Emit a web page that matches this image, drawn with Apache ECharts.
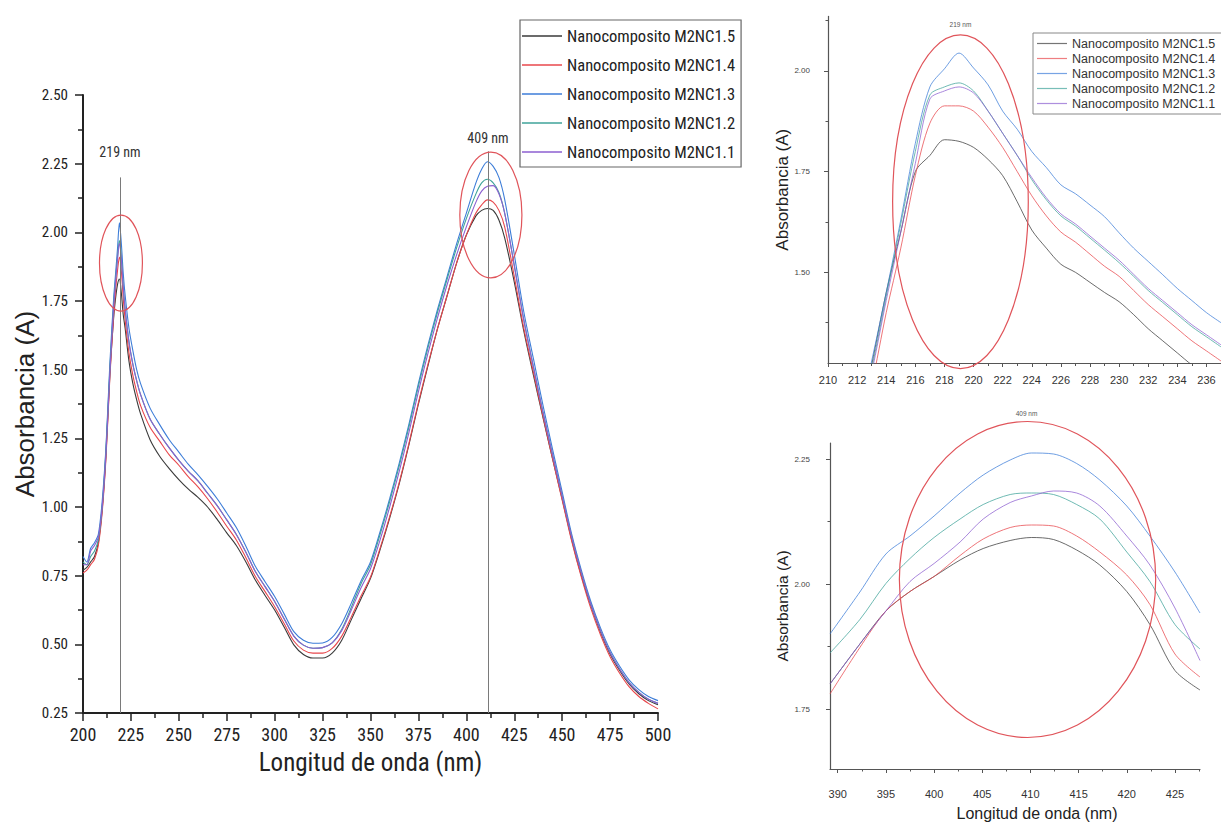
<!DOCTYPE html>
<html><head><meta charset="utf-8">
<script src="https://cdn.jsdelivr.net/npm/echarts@6/dist/echarts.min.js"></script>
<style>html,body{margin:0;padding:0;background:#fff}#c{width:1221px;height:822px}</style>
</head><body><div id="c"></div>
<script>
// ---------- data ----------
const seriesNames = ['Nanocomposito M2NC1.5','Nanocomposito M2NC1.4','Nanocomposito M2NC1.3','Nanocomposito M2NC1.2','Nanocomposito M2NC1.1'];
const seriesColors = ['#3a3a3a','#e8474c','#3d7dd8','#3fa39a','#8c5fd0'];

// main spectrum (200-500 nm)
const mainWl = [200,202,204,206,208,210,212,214,216,217,218,219,220,221,222,224,226,228,230,235,240,245,250,255,260,265,270,275,280,285,290,295,300,305,310,315,320,325,330,335,340,345,350,355,360,365,370,375,380,385,390,395,400,405,408,411,414,417,420,425,430,435,440,445,450,455,460,465,470,475,480,485,490,495,500];
const mainM15 = [0.77,0.78,0.80,0.82,0.87,0.99,1.19,1.48,1.69,1.76,1.81,1.83,1.78,1.70,1.65,1.53,1.45,1.39,1.34,1.245,1.185,1.14,1.10,1.065,1.035,1.00,0.955,0.906,0.86,0.80,0.733,0.678,0.625,0.562,0.498,0.463,0.45,0.45,0.468,0.515,0.59,0.665,0.74,0.845,0.96,1.085,1.225,1.375,1.515,1.65,1.77,1.89,1.99,2.06,2.08,2.087,2.08,2.045,1.98,1.82,1.64,1.48,1.325,1.175,1.03,0.88,0.75,0.64,0.545,0.465,0.405,0.355,0.32,0.295,0.28];
const mainM14 = [0.76,0.77,0.79,0.81,0.86,0.98,1.18,1.47,1.70,1.79,1.86,1.91,1.86,1.76,1.68,1.56,1.48,1.42,1.37,1.29,1.24,1.19,1.152,1.11,1.073,1.03,0.982,0.930,0.88,0.815,0.746,0.692,0.637,0.575,0.512,0.479,0.468,0.468,0.485,0.53,0.60,0.675,0.745,0.85,0.965,1.09,1.23,1.38,1.52,1.65,1.77,1.89,1.99,2.07,2.10,2.118,2.11,2.08,2.02,1.84,1.65,1.49,1.33,1.175,1.025,0.875,0.745,0.63,0.535,0.455,0.395,0.345,0.31,0.285,0.265];
const mainM13 = [0.82,0.80,0.85,0.87,0.90,1.02,1.22,1.52,1.76,1.85,1.94,2.035,1.96,1.85,1.77,1.65,1.57,1.50,1.45,1.36,1.30,1.245,1.20,1.155,1.117,1.075,1.03,0.978,0.925,0.857,0.783,0.728,0.674,0.61,0.546,0.515,0.504,0.505,0.525,0.575,0.65,0.73,0.80,0.91,1.03,1.16,1.30,1.45,1.59,1.72,1.84,1.96,2.07,2.18,2.23,2.257,2.24,2.20,2.12,1.92,1.71,1.54,1.37,1.21,1.055,0.90,0.77,0.655,0.56,0.48,0.42,0.37,0.335,0.31,0.295];
const mainM12 = [0.80,0.79,0.82,0.84,0.88,1.00,1.21,1.50,1.74,1.83,1.91,1.97,1.91,1.80,1.72,1.60,1.52,1.46,1.41,1.32,1.265,1.215,1.17,1.13,1.095,1.05,1.005,0.953,0.90,0.835,0.764,0.71,0.656,0.592,0.530,0.497,0.486,0.488,0.505,0.555,0.635,0.72,0.79,0.90,1.02,1.15,1.29,1.44,1.58,1.71,1.83,1.945,2.05,2.14,2.18,2.193,2.18,2.145,2.07,1.88,1.68,1.51,1.345,1.19,1.04,0.89,0.76,0.645,0.55,0.47,0.41,0.36,0.325,0.30,0.285];
const mainM11 = [0.79,0.79,0.84,0.86,0.89,1.00,1.20,1.49,1.73,1.82,1.90,1.96,1.90,1.80,1.72,1.60,1.52,1.46,1.41,1.32,1.265,1.215,1.17,1.13,1.095,1.05,1.005,0.953,0.90,0.835,0.764,0.71,0.656,0.592,0.530,0.497,0.486,0.488,0.505,0.55,0.625,0.705,0.775,0.88,1.00,1.13,1.27,1.42,1.56,1.69,1.81,1.92,2.02,2.11,2.15,2.168,2.17,2.14,2.07,1.88,1.68,1.51,1.345,1.19,1.04,0.89,0.76,0.645,0.55,0.47,0.41,0.36,0.325,0.30,0.285];

// zoom around 219 nm
const z1Wl  = [212,213,214,215,216,217,218,219,220,221,222,223,224,225,226,227,228,229,230,231,232,233,234,235,236,237];
const z1M15 = [1.10,1.27,1.45,1.60,1.75,1.79,1.829,1.825,1.81,1.78,1.74,1.675,1.605,1.56,1.52,1.50,1.475,1.45,1.427,1.395,1.36,1.33,1.30,1.27,1.245,1.22];
const z1M14 = [1.08,1.22,1.40,1.56,1.74,1.87,1.913,1.913,1.90,1.86,1.81,1.75,1.69,1.64,1.60,1.575,1.545,1.515,1.49,1.455,1.42,1.39,1.36,1.33,1.305,1.28];
const z1M13 = [1.12,1.28,1.45,1.63,1.82,1.96,2.005,2.044,2.007,1.965,1.90,1.855,1.80,1.76,1.717,1.695,1.667,1.638,1.598,1.56,1.527,1.494,1.46,1.43,1.40,1.375];
const z1M12 = [1.10,1.26,1.44,1.62,1.80,1.94,1.96,1.97,1.95,1.90,1.845,1.79,1.73,1.68,1.64,1.615,1.585,1.555,1.524,1.49,1.455,1.425,1.395,1.365,1.34,1.315];
const z1M11 = [1.09,1.25,1.43,1.60,1.77,1.93,1.95,1.96,1.945,1.90,1.845,1.79,1.735,1.685,1.645,1.62,1.59,1.56,1.53,1.495,1.46,1.43,1.40,1.37,1.345,1.32];

// zoom around 409 nm
const z2Wl  = [389.2,392.3,395,397.5,400,402.7,405.1,407.9,410.1,412.4,414.8,417.2,420,422.4,425,427.6];
const z2M15 = [1.800,1.880,1.946,1.985,2.015,2.048,2.071,2.087,2.093,2.089,2.068,2.038,1.985,1.919,1.827,1.788];
const z2M14 = [1.780,1.873,1.946,1.985,2.015,2.057,2.090,2.113,2.118,2.116,2.096,2.064,2.018,1.959,1.860,1.814];
const z2M13 = [1.900,1.984,2.060,2.096,2.136,2.182,2.218,2.248,2.262,2.260,2.241,2.208,2.156,2.096,2.024,1.942];
const z2M12 = [1.862,1.929,2.001,2.051,2.093,2.130,2.159,2.179,2.182,2.179,2.159,2.130,2.064,2.005,1.919,1.870];
const z2M11 = [1.800,1.880,1.946,2.005,2.041,2.084,2.130,2.163,2.176,2.186,2.182,2.156,2.096,2.038,1.952,1.847];

// tick values
const z1YLabels = [1.50,1.75,2.00];
const z1YMinor  = [1.375,1.625,1.875,2.125];
const z2XLabels = [390,395,400,405,410,415,420,425];
const z2XMinor  = [392.5,397.5,402.5,407.5,412.5,417.5,422.5,427.5];
const z2YLabels = [1.75,2.00,2.25];
const z2YMinor  = [1.875,2.125];

// annotations (data units)
const peakLines = [{x:219.3, top:2.20, text:'219 nm', ty:2.293}, {x:411.3, top:2.295, text:'409 nm', ty:2.343}];
const ellipses = [
  {xa:0, ya:0, cx:219.8, cy:1.888, rx:11.2, ry:0.175},
  {xa:0, ya:0, cx:412.8, cy:2.063, rx:16.2, ry:0.229},
  {xa:1, ya:1, cx:219.1, cy:1.675, rx:4.66, ry:0.414},
  {xa:2, ya:3, cx:409.7, cy:2.009, rx:13.3, ry:0.316}
];
const insetLabels = [{xa:1, ya:1, x:219.1, y:2.116, text:'219 nm'}, {xa:2, ya:3, x:409.6, y:2.342, text:'409 nm'}];

// ---------- chart ----------
const NARROW = '"Liberation Sans Narrow","Arial Narrow","Roboto Condensed","DejaVu Sans Condensed",sans-serif';
const REG = '"Liberation Sans",Arial,Helvetica,sans-serif';
const mainSets = [mainM15, mainM14, mainM13, mainM12, mainM11];
const z1Sets = [z1M15, z1M14, z1M13, z1M12, z1M11];
const z2Sets = [z2M15, z2M14, z2M13, z2M12, z2M11];

function mk(name, color, xi, yi, wl, vals, width, opacity) {
  return {
    type:'line', name, xAxisIndex:xi, yAxisIndex:yi,
    data: wl.map((x,i)=>[x, vals[i]]),
    symbol:'none', showSymbol:false, smooth:0.3, clip:true, sampling:null,
    lineStyle:{color, width, opacity}, itemStyle:{color},
    emphasis:{disabled:true}, silent:true, animation:false
  };
}
const series = [];
seriesNames.forEach((n,i)=>{
  const s = mk(n, seriesColors[i], 0, 0, mainWl, mainSets[i], 1.1, 1);
  if (i === 0) {
    s.markLine = {
      symbol:'none', silent:true, animation:false,
      lineStyle:{color:'#7a7a7a', width:1, type:'solid'}, label:{show:false},
      data: peakLines.map(p=>[{coord:[p.x, p.top]}, {coord:[p.x, 0.25]}])
    };
  }
  series.push(s);
});
seriesNames.forEach((n,i)=>series.push(mk(n, seriesColors[i], 1, 1, z1Wl, z1Sets[i], 1, 0.75)));
seriesNames.forEach((n,i)=>series.push(mk(n, seriesColors[i], 2, 3, z2Wl, z2Sets[i], 1, 0.75)));

const axC = '#222';
const inC = '#555';
const option = {
  backgroundColor:'#fff',
  animation:false,
  grid:[
    {left:83, top:95, width:575, height:618},
    {left:828, top:16.4, width:400, height:346.6},
    {left:830, top:443, width:370, height:330}
  ],
  legend:[
    {left:520, top:20, orient:'vertical', data:seriesNames, icon:'rect', itemWidth:40, itemHeight:1.5, itemGap:9,
     padding:[6,6,5,2], borderColor:'#666', borderWidth:1.2, backgroundColor:'#fff', selectedMode:false,
     textStyle:{fontFamily:NARROW, fontSize:16.5, color:'#222', lineHeight:20, height:20}},
    {left:1033, top:33, orient:'vertical', data:seriesNames, icon:'rect', itemWidth:30, itemHeight:1.2, itemGap:2,
     padding:[4,40,4,4], borderColor:'#888', borderWidth:1, backgroundColor:'#fff', selectedMode:false,
     itemStyle:{opacity:0.7},
     textStyle:{fontFamily:REG, fontSize:12.5, color:'#333', lineHeight:12.5, height:12.5}}
  ],
  xAxis:[
    {type:'value', gridIndex:0, min:200, max:500, interval:25,
     axisLine:{lineStyle:{color:axC, width:2}}, splitLine:{show:false},
     axisTick:{length:8, lineStyle:{color:axC, width:1.5}},
     minorTick:{show:true, splitNumber:2, length:5, lineStyle:{color:axC, width:1.5}},
     axisLabel:{fontFamily:NARROW, fontSize:18, color:'#222', margin:12},
     name:'Longitud de onda (nm)', nameLocation:'middle', nameGap:37,
     nameTextStyle:{fontFamily:NARROW, fontSize:25, color:'#222'}},
    {type:'value', gridIndex:1, min:210, max:237, interval:2,
     axisLine:{lineStyle:{color:inC, width:1.2}}, splitLine:{show:false},
     axisTick:{length:4, lineStyle:{color:inC}},
     minorTick:{show:true, splitNumber:2, length:3, lineStyle:{color:inC}},
     axisLabel:{fontFamily:REG, fontSize:11, color:'#333', margin:11}},
    {type:'value', gridIndex:2, position:'bottom', min:389.2, max:427.6,
     axisLine:{lineStyle:{color:inC, width:1.2}}, splitLine:{show:false},
     axisTick:{length:4, customValues:z2XLabels, lineStyle:{color:inC}},
     axisLabel:{fontFamily:REG, fontSize:11, color:'#333', margin:19, customValues:z2XLabels},
     name:'Longitud de onda (nm)', nameLocation:'middle', nameGap:36,
     nameTextStyle:{fontFamily:REG, fontSize:16, color:'#222', padding:[0,0,0,44]}},
    {type:'value', gridIndex:2, position:'bottom', min:389.2, max:427.6,
     axisLine:{show:false}, splitLine:{show:false}, axisLabel:{show:false},
     axisTick:{length:2.5, customValues:z2XMinor, lineStyle:{color:inC}}}
  ],
  yAxis:[
    {type:'value', gridIndex:0, min:0.25, max:2.5, interval:0.25,
     axisLine:{show:true, lineStyle:{color:axC, width:2}}, splitLine:{show:false},
     axisTick:{show:true, length:8, lineStyle:{color:axC, width:1.5}},
     minorTick:{show:true, splitNumber:2, length:5, lineStyle:{color:axC, width:1.5}},
     axisLabel:{fontFamily:NARROW, fontSize:15, color:'#222', margin:15, formatter:v=>v.toFixed(2)},
     name:'Absorbancia (A)', nameLocation:'middle', nameGap:40, nameRotate:90,
     nameTextStyle:{fontFamily:REG, fontSize:26, color:'#222'}},
    {type:'value', gridIndex:1, position:'left', min:1.275, max:2.135,
     axisLine:{show:true, lineStyle:{color:inC, width:1.2}}, splitLine:{show:false},
     axisTick:{show:true, length:4, customValues:z1YLabels, lineStyle:{color:inC}},
     axisLabel:{fontFamily:REG, fontSize:8, color:'#444', margin:18, customValues:z1YLabels, formatter:v=>v.toFixed(2)},
     name:'Absorbancia (A)', nameLocation:'middle', nameGap:36, nameRotate:90,
     nameTextStyle:{fontFamily:REG, fontSize:17, color:'#222', padding:[0,0,0,0]}},
    {type:'value', gridIndex:1, position:'left', min:1.275, max:2.135,
     axisLine:{show:false}, splitLine:{show:false}, axisLabel:{show:false},
     axisTick:{show:true, length:2.5, customValues:z1YMinor, lineStyle:{color:inC}}},
    {type:'value', gridIndex:2, position:'left', min:1.63, max:2.282,
     axisLine:{show:true, lineStyle:{color:inC, width:1.2}}, splitLine:{show:false},
     axisTick:{show:true, length:4, customValues:z2YLabels, lineStyle:{color:inC}},
     axisLabel:{fontFamily:REG, fontSize:8, color:'#444', margin:20, customValues:z2YLabels, formatter:v=>v.toFixed(2)},
     name:'Absorbancia (A)', nameLocation:'middle', nameGap:36, nameRotate:90,
     nameTextStyle:{fontFamily:REG, fontSize:15.5, color:'#222'}},
    {type:'value', gridIndex:2, position:'left', min:1.63, max:2.282,
     axisLine:{show:false}, splitLine:{show:false}, axisLabel:{show:false},
     axisTick:{show:true, length:2.5, customValues:z2YMinor, lineStyle:{color:inC}}}
  ],
  series
};

const chart = echarts.init(document.getElementById('c'), null, {renderer:'svg'});
chart.setOption(option);

// annotations placed through the axes' scales
const px = (xa, ya, x, y) => chart.convertToPixel({xAxisIndex:xa, yAxisIndex:ya}, [x, y]);
const graphics = [];
ellipses.forEach(e=>{
  const c = px(e.xa, e.ya, e.cx, e.cy);
  const r = px(e.xa, e.ya, e.cx + e.rx, e.cy + e.ry);
  graphics.push({type:'ellipse', silent:true, z:50,
    shape:{cx:c[0], cy:c[1], rx:Math.abs(r[0]-c[0]), ry:Math.abs(r[1]-c[1])},
    style:{fill:'none', stroke:'#e0545a', lineWidth:1.2}});
});
peakLines.forEach(p=>{
  const c = px(0, 0, p.x, p.ty);
  graphics.push({type:'text', silent:true, z:50, x:c[0], y:c[1],
    style:{text:p.text, fontFamily:NARROW, fontSize:14, fill:'#333', align:'center', verticalAlign:'middle'}});
});
insetLabels.forEach(p=>{
  const c = px(p.xa, p.ya, p.x, p.y);
  graphics.push({type:'text', silent:true, z:50, x:c[0], y:c[1],
    style:{text:p.text, fontFamily:REG, fontSize:6.5, fill:'#555', align:'center', verticalAlign:'middle'}});
});
chart.setOption({graphic:graphics});
</script>
</body></html>
